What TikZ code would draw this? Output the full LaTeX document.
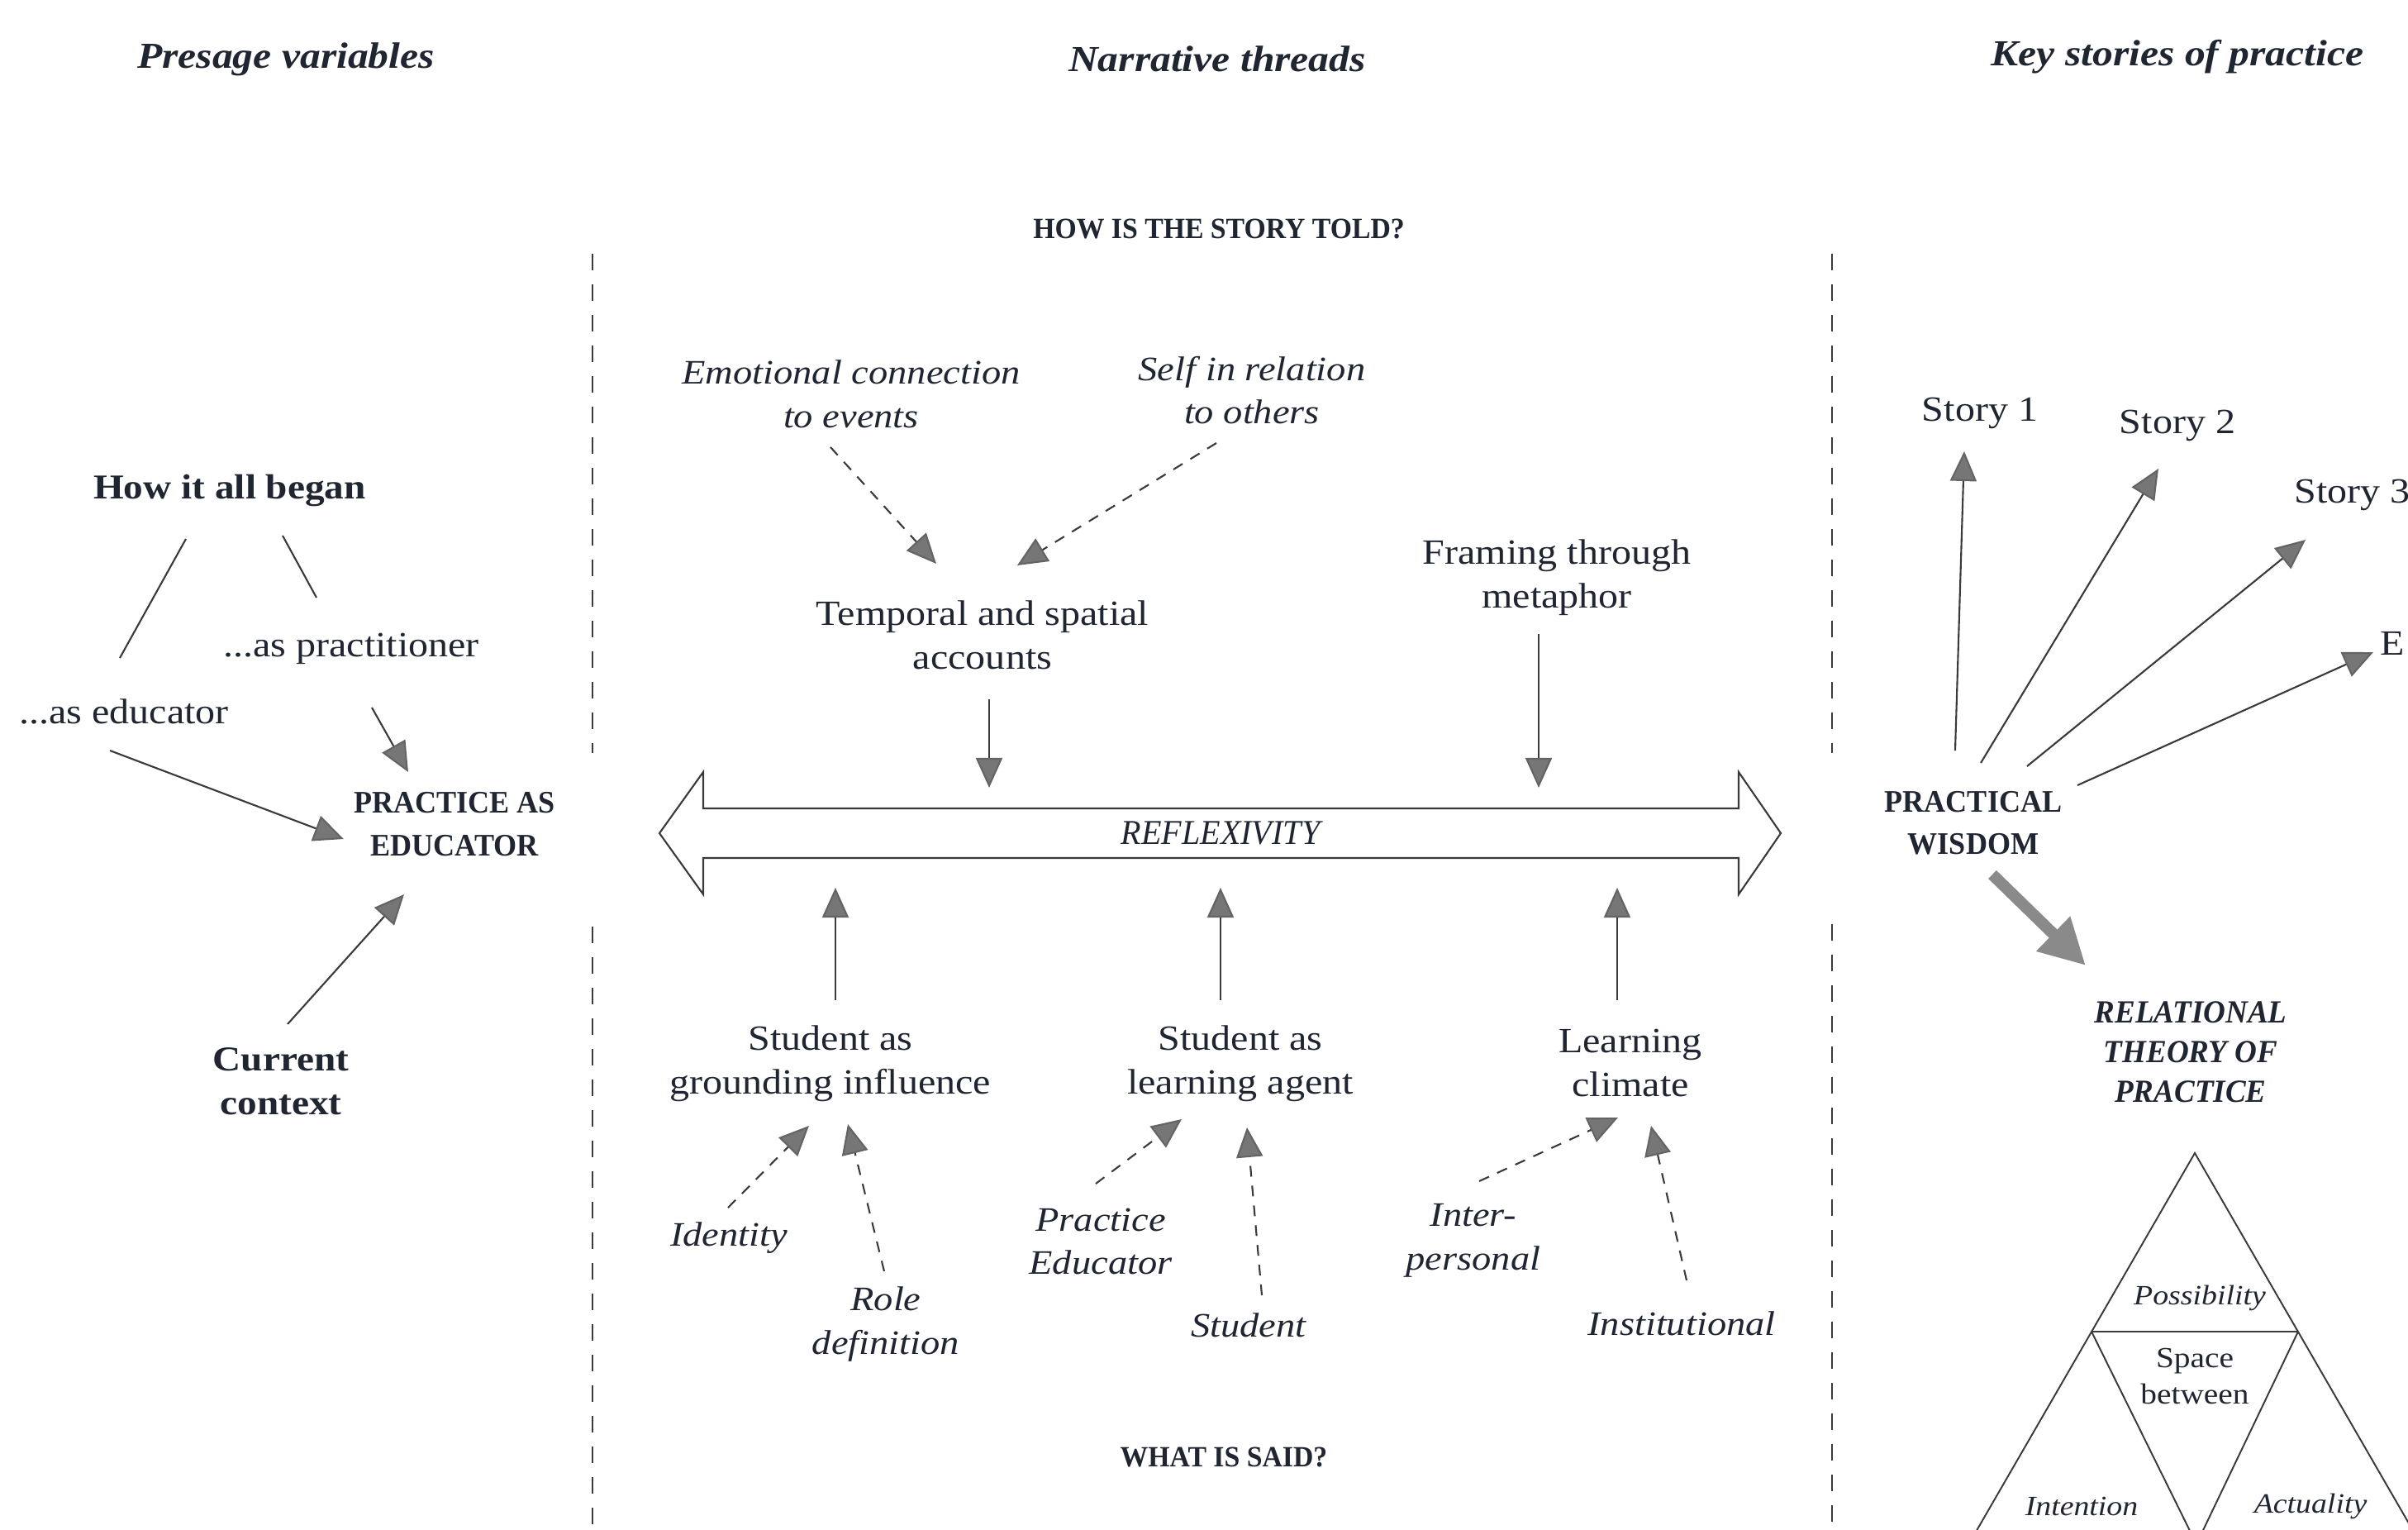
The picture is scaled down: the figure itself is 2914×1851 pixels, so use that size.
\documentclass[tikz,border=0pt]{standalone}
\usepackage{fontspec}
\setmainfont[FakeStretch=1.12]{Liberation Serif}
\newfontfamily\narrowserif[FakeStretch=0.95]{Liberation Serif}
\usetikzlibrary{arrows.meta}
\definecolor{ink}{HTML}{1F2631}
\definecolor{ln}{HTML}{3A3A3A}
\definecolor{headfill}{HTML}{767676}
\definecolor{bigfill}{HTML}{8A8A8A}
\tikzset{
  lbl/.style={text=ink, align=center, inner sep=0pt},
  body/.style={lbl, font=\fontsize{12.2}{15}\selectfont},
  itx/.style={lbl, font=\fontsize{11.8}{15}\selectfont\itshape},
  bld/.style={lbl, font=\fontsize{12}{15}\selectfont\bfseries},
  hdr/.style={lbl, font=\fontsize{12.6}{15}\selectfont\bfseries\itshape},
  capsq/.style={lbl, font=\narrowserif\fontsize{10.1}{12}\selectfont\bfseries},
  capsb/.style={lbl, font=\narrowserif\fontsize{10.8}{14.6}\selectfont\bfseries},
  capsbi/.style={lbl, font=\narrowserif\fontsize{11.1}{13.6}\selectfont\bfseries\itshape},
  tri/.style={lbl, font=\fontsize{9.6}{12.5}\selectfont\itshape},
  trib/.style={lbl, font=\fontsize{10}{12.5}\selectfont},
  plain/.style={draw=ln, line width=0.6pt},
  arr/.style={plain, -{Triangle[length=0.36cm,width=0.32cm,color=headfill!85!black,fill=headfill]}},
  darr/.style={arr, dash pattern=on 0.13cm off 0.11cm},
  divider/.style={draw=ln, line width=0.8pt, dash pattern=on 0.2cm off 0.17cm},
  bigarr/.style={draw=bigfill, line width=0.14cm, -{Triangle[length=0.55cm,width=0.55cm,color=bigfill,fill=bigfill]}},
  triline/.style={draw=ln, line width=0.55pt}
}
\begin{document}
\begin{tikzpicture}[x=0.01cm, y=-0.01cm]
\useasboundingbox (0,0) rectangle (2914,1851);
\clip (0,0) rectangle (2914,1851);
\fill[white] (0,0) rectangle (2914,1851);

% ---------- headers ----------
\node[hdr] (hdr1) at (346,72) {Presage variables};
\node[hdr] (hdr2) at (1473,71) {Narrative threads};
\node[hdr] (hdr3) at (2635,69) {Key stories of practice};
\node[capsq] (how) at (1475,277) {HOW IS THE STORY TOLD?};
\node[capsq] (what) at (1481,1763) {WHAT IS SAID?};

% ---------- dividers ----------
\coordinate (dl1) at (717,307); \coordinate (dl2) at (717,911);
\coordinate (dl3) at (717,1121); \coordinate (dl4) at (717,1860);
\coordinate (dr1) at (2217,307); \coordinate (dr2) at (2217,911);
\coordinate (dr3) at (2217,1118); \coordinate (dr4) at (2217,1860);
\draw[divider] (dl1) -- (dl2);
\draw[divider] (dl3) -- (dl4);
\draw[divider] (dr1) -- (dr2);
\draw[divider] (dr3) -- (dr4);

% ---------- left column ----------
\node[bld] (began) at (278,594) {How it all began};
\node[body] (prac) at (425,785) {...as practitioner};
\node[body] (edu) at (150,861) {...as educator};
\node[capsb] (pae) at (550,997) {PRACTICE AS\\EDUCATOR};
\node[bld] (cur) at (340,1308) {Current\\context};

\coordinate (l1a) at (225,652); \coordinate (l1b) at (145,796);
\coordinate (l2a) at (342,648); \coordinate (l2b) at (383,723);
\coordinate (a1s) at (450,856); \coordinate (a1t) at (494,934);
\coordinate (a2s) at (133,908); \coordinate (a2t) at (416,1015);
\coordinate (a3s) at (348,1239); \coordinate (a3t) at (489,1082);
\draw[plain] (l1a) -- (l1b);
\draw[plain] (l2a) -- (l2b);
\draw[arr] (a1s) -- (a1t);
\draw[arr] (a2s) -- (a2t);
\draw[arr] (a3s) -- (a3t);

% ---------- middle column ----------
\node[itx] (emo) at (1030,477) {Emotional connection\\to events};
\node[itx] (self) at (1515,472) {Self in relation\\to others};
\node[body] (temp) at (1189,768) {Temporal and spatial\\accounts};
\node[body] (fram) at (1884,699) {Framing through\\metaphor};

\coordinate (d1s) at (1005,541); \coordinate (d1t) at (1133,682);
\coordinate (d2s) at (1472,536); \coordinate (d2t) at (1231,684);
\draw[darr] (d1s) -- (d1t);
\draw[darr] (d2s) -- (d2t);

% double arrow
\draw[plain, fill=white, line join=miter]
  (798,1008) -- (851,934) -- (851,978) -- (2104,978) -- (2104,934) -- (2155,1008)
  -- (2104,1082) -- (2104,1038) -- (851,1038) -- (851,1082) -- cycle;
\node[lbl, font=\narrowserif\fontsize{12}{14}\selectfont\itshape] (refl) at (1477,1008) {REFLEXIVITY};

\coordinate (v1s) at (1197,846); \coordinate (v1t) at (1197,953);
\coordinate (v2s) at (1862,767); \coordinate (v2t) at (1862,953);
\draw[arr] (v1s) -- (v1t);
\draw[arr] (v2s) -- (v2t);

\node[body] (grd) at (1005,1287) {Student as\\grounding influence};
\node[body] (lag) at (1501,1287) {Student as\\learning agent};
\node[body] (clim) at (1973,1286) {Learning\\climate};

\coordinate (u1s) at (1011,1210); \coordinate (u1t) at (1011,1074);
\coordinate (u2s) at (1477,1210); \coordinate (u2t) at (1477,1074);
\coordinate (u3s) at (1957,1210); \coordinate (u3t) at (1957,1074);
\draw[arr] (u1s) -- (u1t);
\draw[arr] (u2s) -- (u2t);
\draw[arr] (u3s) -- (u3t);

\node[itx] (ident) at (882,1498) {Identity};
\node[itx] (role) at (1072,1602) {Role\\definition};
\node[itx] (pe) at (1332,1502) {Practice\\Educator};
\node[itx] (stud) at (1511,1603) {Student};
\node[itx] (inter) at (1783,1501) {Inter-\\personal};
\node[itx] (inst) at (2035,1601) {Institutional};

\coordinate (e1s) at (881,1461); \coordinate (e1t) at (979,1362);
\coordinate (e2s) at (1070,1538); \coordinate (e2t) at (1026,1360);
\coordinate (e3s) at (1326,1432); \coordinate (e3t) at (1430,1354);
\coordinate (e4s) at (1527,1567); \coordinate (e4t) at (1509,1364);
\coordinate (e5s) at (1790,1429); \coordinate (e5t) at (1958,1352);
\coordinate (e6s) at (2041,1549); \coordinate (e6t) at (1998,1362);
\draw[darr] (e1s) -- (e1t);
\draw[darr] (e2s) -- (e2t);
\draw[darr] (e3s) -- (e3t);
\draw[darr] (e4s) -- (e4t);
\draw[darr] (e5s) -- (e5t);
\draw[darr] (e6s) -- (e6t);

% ---------- right column ----------
\node[body] (s1) at (2396,500) {Story 1};
\node[body] (s2) at (2635,515) {Story 2};
\node[body, anchor=west] (s3) at (2776,599) {Story 3};
\node[body, anchor=west] (s4) at (2880,778) {E};
\node[capsb] (pw) at (2388,996) {PRACTICAL\\WISDOM};

\coordinate (r1s) at (2366,908); \coordinate (r1t) at (2377,546);
\coordinate (r2s) at (2397,923); \coordinate (r2t) at (2612,567);
\coordinate (r3s) at (2453,927); \coordinate (r3t) at (2790,653);
\coordinate (r4s) at (2514,950); \coordinate (r4t) at (2872,789);
\draw[arr] (r1s) -- (r1t);
\draw[arr] (r2s) -- (r2t);
\draw[arr] (r3s) -- (r3t);
\draw[arr] (r4s) -- (r4t);

\node[capsbi] (rel) at (2651,1273) {RELATIONAL\\THEORY OF\\PRACTICE};
\coordinate (bs) at (2411,1058); \coordinate (bt) at (2524,1168);
\draw[bigarr] (bs) -- (bt);

% triangle
\coordinate (apex) at (2656,1395);
\coordinate (ml) at (2531,1611);
\coordinate (mr) at (2781,1611);
\coordinate (bl) at (2364,1900);
\coordinate (br) at (2948,1900);
\coordinate (iv) at (2658,1868);
\draw[triline] (bl) -- (apex) -- (br);
\draw[triline] (ml) -- (mr);
\draw[triline] (ml) -- (iv) -- (mr);
\node[tri] (poss) at (2662,1570) {Possibility};
\node[trib] (space) at (2656,1665) {Space\\between};
\node[tri] (inten) at (2519,1822) {Intention};
\node[tri] (actu) at (2796,1822) {Actuality};
\end{tikzpicture}
\end{document}
